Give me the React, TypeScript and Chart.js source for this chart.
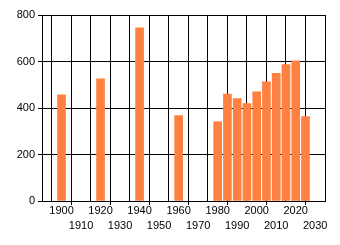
import React, { useEffect, useRef } from 'react';
import { Chart, registerables } from 'chart.js';

Chart.register(...registerables);

const years = [1900, 1920, 1940, 1960, 1980, 1985, 1990, 1995, 2000, 2005, 2010, 2015, 2020, 2025];
const values = [457, 526, 745, 367, 341, 460, 440, 419, 470, 513, 549, 587, 603, 363];
const xTickValues = [1900, 1910, 1920, 1930, 1940, 1950, 1960, 1970, 1980, 1990, 2000, 2010, 2020, 2030];
const lowerRowTicks = [1910, 1930, 1950, 1970, 1990, 2010, 2030];
const yTickValues = [0, 200, 400, 600, 800];

const FONT = { family: 'Liberation Sans', size: 11, lineHeight: '15px' } as any;

export default function App() {
  const ref = useRef<HTMLCanvasElement | null>(null);

  useEffect(() => {
    document.body.style.margin = '0';
    const canvas = ref.current;
    if (!canvas) return;
    const chart = new Chart(canvas, {
      type: 'bar',
      data: {
        datasets: [
          {
            data: years.map((y, i) => ({ x: y, y: values[i] })),
            backgroundColor: 'rgb(255,128,64)',
            borderWidth: 0,
            barThickness: 8,
          },
        ],
      },
      options: {
        responsive: false,
        animation: false,
        devicePixelRatio: 1,
        layout: { padding: { top: 15, right: 15, left: 0, bottom: 0 } },
        plugins: { legend: { display: false }, tooltip: { enabled: false } },
        scales: {
          x: {
            type: 'linear',
            min: 1890,
            max: 2035,
            offset: false,
            afterBuildTicks: (scale: any) => {
              scale.ticks = [1890, ...xTickValues].map((v) => ({ value: v }));
            },
            afterFit: (scale: any) => {
              scale.height = 44;
            },
            border: { display: true, color: '#000', width: 1 },
            grid: {
              color: '#000',
              lineWidth: 1,
              tickLength: 4,
              tickColor: (ctx: any) =>
                ctx.tick && lowerRowTicks.includes(ctx.tick.value) ? '#000' : 'rgba(0,0,0,0)',
            },
            ticks: {
              autoSkip: false,
              maxRotation: 0,
              minRotation: 0,
              padding: -2,
              color: '#000',
              font: FONT,
              callback: (v: any) => {
                const n = Number(v);
                if (!xTickValues.includes(n)) return '';
                return lowerRowTicks.includes(n) ? ['', String(n)] : String(n);
              },
            },
          },
          y: {
            min: 0,
            max: 800,
            afterBuildTicks: (scale: any) => {
              scale.ticks = yTickValues.map((v) => ({ value: v }));
            },
            afterFit: (scale: any) => {
              scale.width = 42;
            },
            border: { display: true, color: '#000', width: 1 },
            grid: { color: '#000', lineWidth: 1, tickLength: 4, tickColor: '#000' },
            ticks: { padding: 3, color: '#000', font: { family: 'Liberation Sans', size: 11 } },
          },
        },
      },
    } as any);
    return () => chart.destroy();
  }, []);

  return (
    <div style={{ position: 'absolute', left: 0, top: 0, width: 340, height: 245, background: '#fff' }}>
      <canvas ref={ref} width={340} height={245} style={{ width: 340, height: 245 }} />
    </div>
  );
}
